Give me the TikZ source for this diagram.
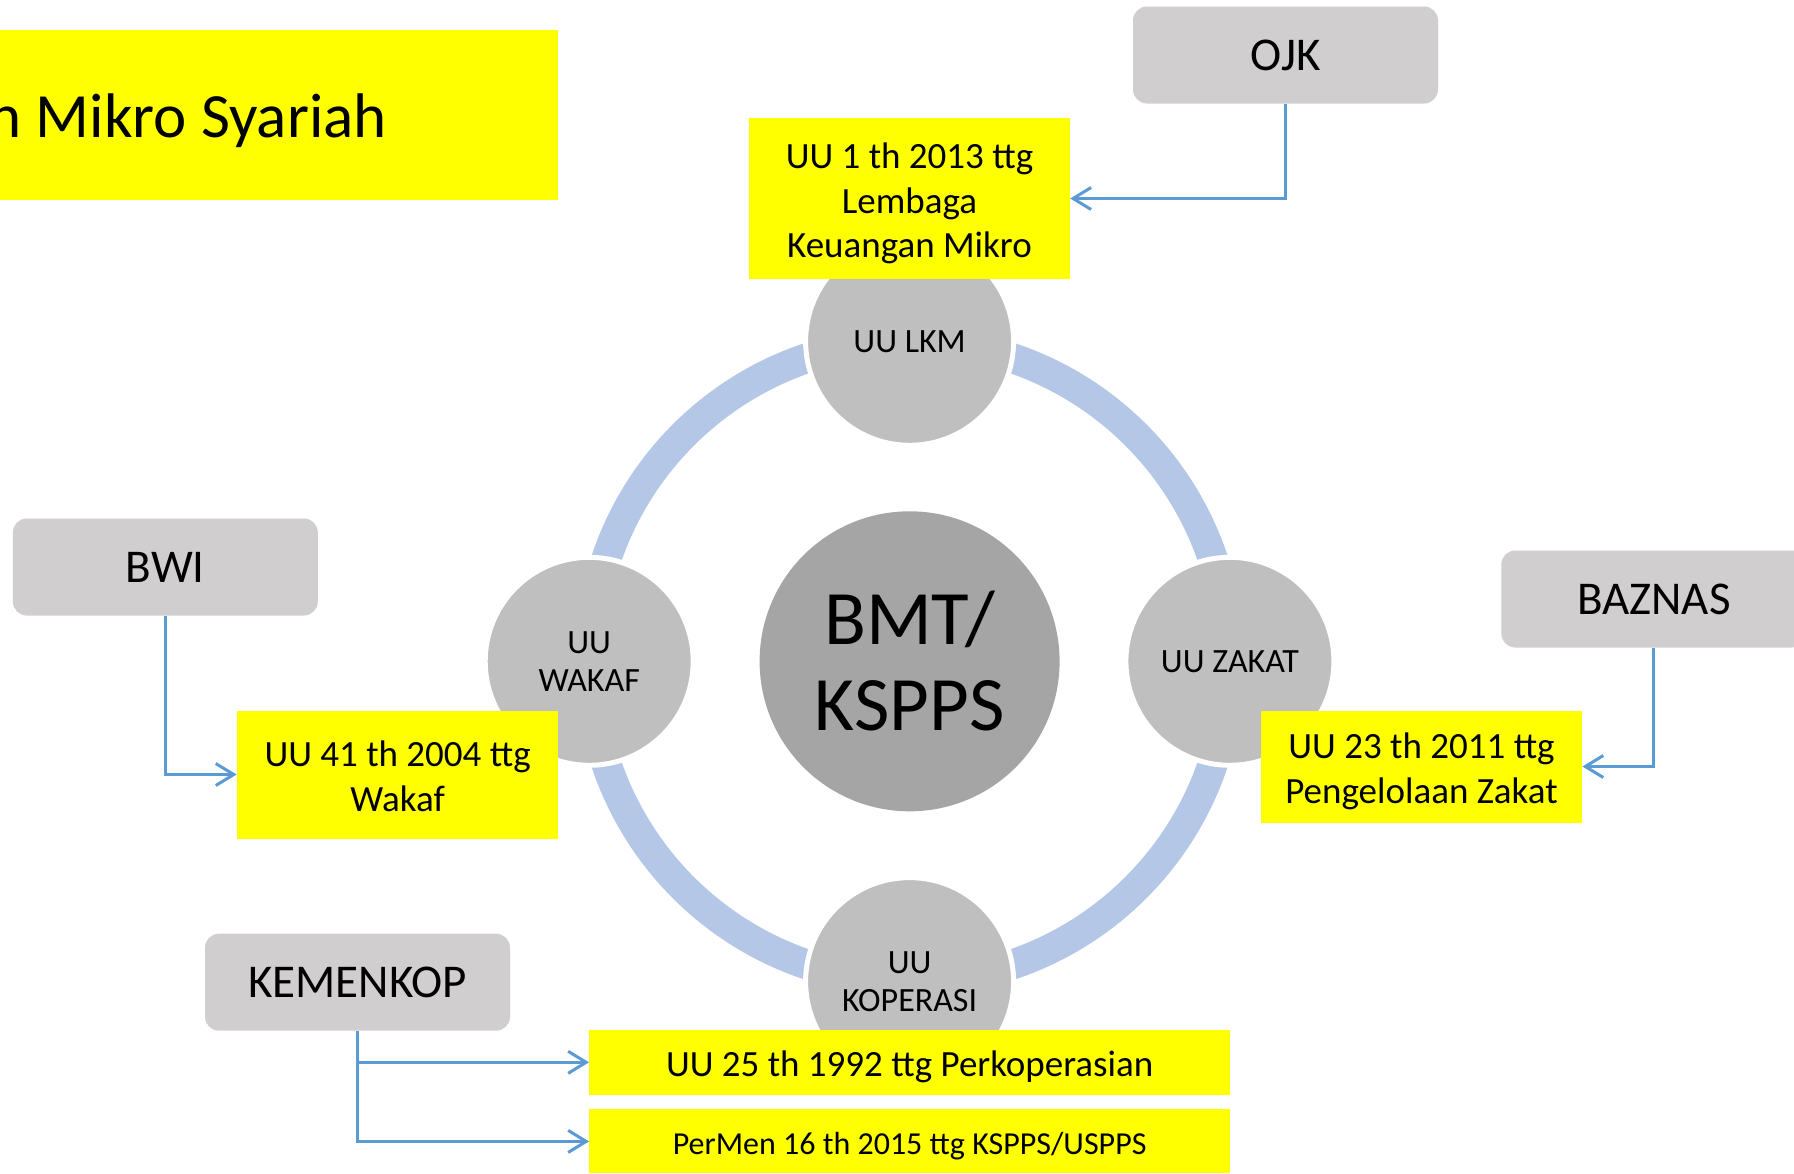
\documentclass[tikz,border=0pt]{standalone}
\usepackage{fontspec}
\setmainfont{Carlito}
\usetikzlibrary{arrows.meta}
\definecolor{ylw}{HTML}{FFFF00}
\definecolor{boxgray}{HTML}{D0CECE}
\definecolor{circgray}{HTML}{BFBFBF}
\definecolor{centergray}{HTML}{A5A5A5}
\definecolor{ringblue}{HTML}{B4C7E7}
\definecolor{arrowblue}{HTML}{5B9BD5}
\begin{document}
\begin{tikzpicture}[x=1pt,y=-1pt,
  orgbox/.style={rectangle, rounded corners=14pt, fill=boxgray, minimum width=305pt, minimum height=97pt, font=\fontsize{47}{56}\selectfont, inner sep=0pt},
  lawbox/.style={rectangle, fill=ylw, inner sep=0pt},
  lawtext/.style={inner sep=0pt, align=center, font=\fontsize{37}{44.5}\selectfont},
  uucirc/.style={circle, fill=circgray, draw=white, line width=5pt, minimum size=208pt, inner sep=0pt, align=center, font=\fontsize{34}{38}\selectfont},
  link/.style={draw=arrowblue, line width=3pt, -{Straight Barb[length=18pt,width=22pt]}}]
\useasboundingbox (0,0) rectangle (1794,1173);
\clip (0,0) rectangle (1794,1173);
\fill[white] (0,0) rectangle (1794,1173);
% title
\node[fill=ylw, minimum width=558pt, minimum height=170pt, inner sep=0pt, anchor=north west] (titlebox) at (0,30) {};
\node[anchor=base east, inner sep=0pt, font=\fontsize{63}{75}\selectfont] (title) at (387,137) {n Mikro Syariah};
% ring
\coordinate (c) at (909.6,661.3);
\draw[ringblue, line width=30pt] (c) circle[radius=320pt];
% circles
\node[uucirc] (lkm) at (909.6,341.3) {UU LKM};
\node[uucirc] (wakaf) at (589.2,661.3) {UU\\WAKAF};
\node[uucirc] (zakat) at (1229.9,661.3) {UU ZAKAT};
\node[uucirc] (kop) at (909.6,981.6) {UU\\KOPERASI};
\node[circle, fill=centergray, minimum size=300pt, inner sep=0pt, align=center, font=\fontsize{77}{86}\selectfont] (bmt) at (c) {BMT/\\KSPPS};
% law boxes
\node[lawbox, minimum width=321pt, minimum height=161pt] (lkmlaw) at (909.5,198.5) {};
\node[lawtext] (lkmlawtext) at ([yshift=-5pt]lkmlaw.center) {UU 1 th 2013 ttg\\Lembaga\\Keuangan Mikro};
\node[lawbox, minimum width=321.5pt, minimum height=128pt] (wakaflaw) at (397.6,774.5) {};
\node[lawtext] (wakaflawtext) at ([yshift=-2pt]wakaflaw.center) {UU 41 th 2004 ttg\\Wakaf};
\node[lawbox, minimum width=321.5pt, minimum height=112pt] (zakatlaw) at (1421.5,766.5) {};
\node[lawtext] (zakatlawtext) at ([yshift=-5pt]zakatlaw.center) {UU 23 th 2011 ttg\\Pengelolaan Zakat};
\node[lawbox, minimum width=640.7pt, minimum height=65pt] (koplaw) at (909.6,1062.3) {};
\node[lawtext] (koplawtext) at ([yshift=-5pt]koplaw.center) {UU 25 th 1992 ttg Perkoperasian};
\node[lawbox, minimum width=640.7pt, minimum height=64pt] (permen) at (909.6,1141.4) {};
\node[lawtext, font=\fontsize{32}{38}\selectfont] (permentext) at ([yshift=-5pt]permen.center) {PerMen 16 th 2015 ttg KSPPS/USPPS};
% org boxes
\node[orgbox] (ojk) at (1285.5,55) {OJK};
\node[orgbox] (bwi) at (165.3,567) {BWI};
\node[orgbox] (baznas) at (1653.8,599) {BAZNAS};
\node[orgbox] (kemenkop) at (357.5,982.2) {KEMENKOP};
% connectors
\draw[link] (ojk.south) |- (lkmlaw.east);
\draw[link] (bwi.south) |- (wakaflaw.west);
\draw[link] (baznas.south) |- (zakatlaw.east);
\draw[link] (kemenkop.south) |- (koplaw.west);
\draw[link] (kemenkop.south) |- (permen.west);
\end{tikzpicture}
\end{document}
